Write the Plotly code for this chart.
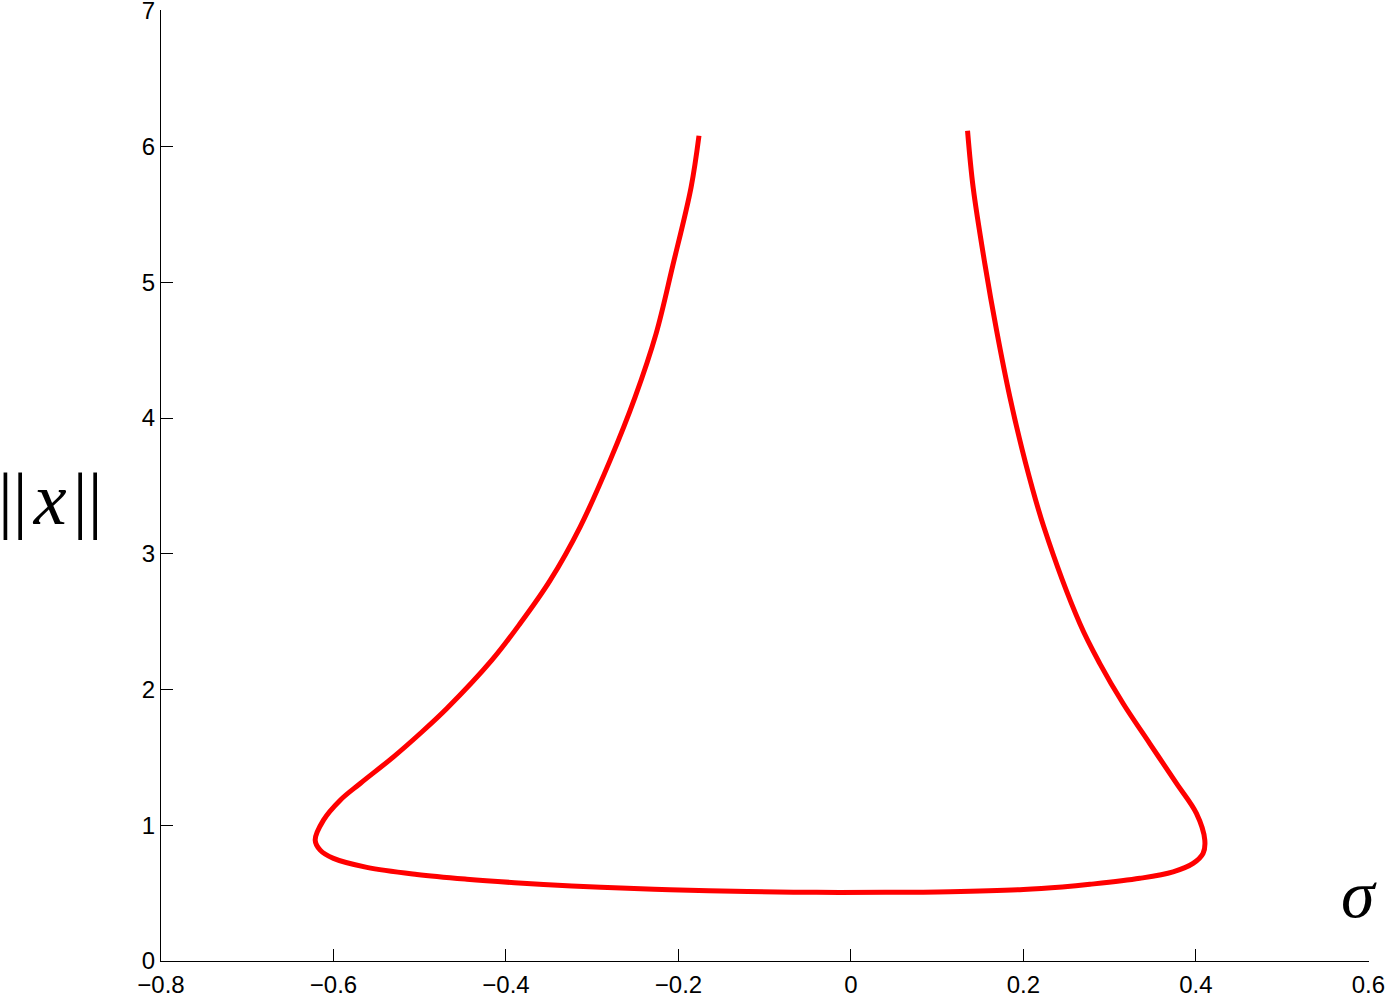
import plotly.graph_objects as go

# Curve (sigma, ||x||), traced from left-top branch around to right-top branch
sigma = [-0.1762, -0.1854, -0.2066, -0.2260, -0.2503, -0.2793, -0.3141, -0.3488,
         -0.3836, -0.4164, -0.4686, -0.4995, -0.5304, -0.5690, -0.5922,
         -0.6116, -0.6212, -0.6154, -0.6000, -0.5613, -0.5033, -0.4454, -0.3900,
         -0.3400, -0.2900, -0.2100, -0.1200, -0.0400, 0.0400, 0.1150, 0.2000,
         0.2450, 0.2770, 0.3349, 0.3735, 0.3967, 0.4083, 0.4103, 0.4006,
         0.3775, 0.3465, 0.3156, 0.2886, 0.2654, 0.2237, 0.2017, 0.1843,
         0.1689, 0.1553, 0.1417, 0.1352]
norm_x = [6.080, 5.699, 5.123, 4.620, 4.154, 3.688, 3.197, 2.804,
          2.486, 2.216, 1.860, 1.676, 1.504, 1.308, 1.185,
          1.038, 0.891, 0.817, 0.756, 0.690, 0.638, 0.603, 0.577,
          0.558, 0.543, 0.525, 0.512, 0.506, 0.506, 0.511, 0.527,
          0.546, 0.565, 0.609, 0.657, 0.719, 0.793, 0.891, 1.087,
          1.308, 1.602, 1.897, 2.191, 2.486, 3.197, 3.688, 4.154,
          4.645, 5.135, 5.699, 6.117]

x_ticks = [-0.8, -0.6, -0.4, -0.2, 0, 0.2, 0.4, 0.6]
x_tick_labels = ["\u22120.8", "\u22120.6", "\u22120.4", "\u22120.2", "0", "0.2", "0.4", "0.6"]
y_ticks = [0, 1, 2, 3, 4, 5, 6, 7]
y_tick_labels = ["0", "1", "2", "3", "4", "5", "6", "7"]

fig = go.Figure()
fig.add_trace(go.Scatter(x=sigma, y=norm_x, mode="lines",
                         line=dict(color="#ff0000", width=5, shape="spline", smoothing=1.0),
                         showlegend=False, hoverinfo="skip"))

axis_common = dict(showgrid=False, zeroline=False, showline=True, linecolor="#000000",
                   linewidth=1, ticks="inside", ticklen=12, tickwidth=1, tickcolor="#000000",
                   tickfont=dict(family="Liberation Sans, Arial, sans-serif", size=24, color="#000000"),
                   mirror=False, automargin=False, ticklabeloverflow="allow")

fig.update_layout(
    width=1388, height=996,
    margin=dict(l=161, r=19, t=10, b=35, autoexpand=False),
    paper_bgcolor="white", plot_bgcolor="white",
    xaxis=dict(range=[-0.8, 0.6007], tickvals=x_ticks, ticktext=x_tick_labels,
               ticklabelstandoff=2, **axis_common),
    yaxis=dict(range=[0, 7.006], tickvals=y_ticks, ticktext=y_tick_labels,
               ticklabelstandoff=0, **axis_common),
    annotations=[
        dict(text="<i>\u03c3</i>", xref="paper", yref="paper", x=0.992, y=0.07,
             showarrow=False, font=dict(family="Liberation Serif, DejaVu Serif, serif", size=68, color="#000000"),
             xanchor="center", yanchor="middle"),
        dict(text="||\u200a<i>x</i>\u200a||", xref="paper", yref="paper", x=-0.092, y=0.486,
             showarrow=False, font=dict(family="Liberation Serif, DejaVu Serif, serif", size=74, color="#000000"),
             xanchor="center", yanchor="middle"),
    ],
)

fig.write_html("out.html", config={"displayModeBar": False},
               post_script="document.body.style.margin='0px';document.body.style.padding='0px';")
